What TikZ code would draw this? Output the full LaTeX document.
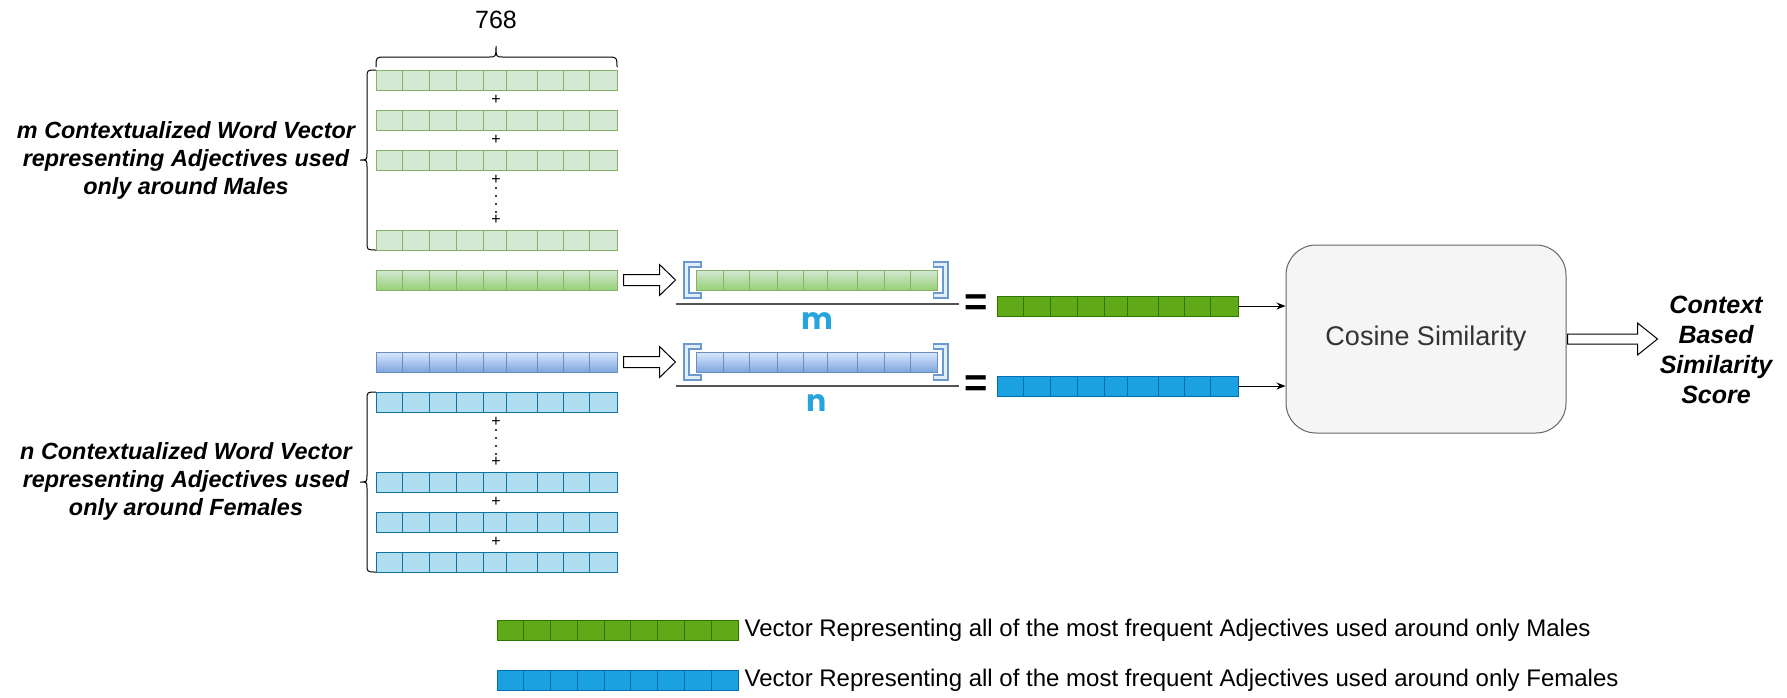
\documentclass[tikz,border=0pt]{standalone}
\usepackage{fontspec}
\setmainfont{Liberation Sans}
\newfontfamily\roundf{Poppins}
\usetikzlibrary{calc,arrows.meta}
\definecolor{lgfill}{HTML}{D5E8D4}
\definecolor{lgline}{HTML}{82B366}
\definecolor{ggrad}{HTML}{97D077}
\definecolor{lbfill}{HTML}{B1DDF0}
\definecolor{lbline}{HTML}{10739E}
\definecolor{bgtop}{HTML}{DAE8FC}
\definecolor{bgbot}{HTML}{7EA6E0}
\definecolor{bgline}{HTML}{6C8EBF}
\definecolor{dgfill}{HTML}{60A917}
\definecolor{dgline}{HTML}{2D7600}
\definecolor{dbfill}{HTML}{1BA1E2}
\definecolor{dbline}{HTML}{006EAF}
\definecolor{boxfill}{HTML}{F5F5F5}
\definecolor{boxline}{HTML}{666666}
\definecolor{boxtext}{HTML}{333333}
\definecolor{brout}{HTML}{6A98CF}
\definecolor{brin}{HTML}{E2EDF8}
\definecolor{mletter}{HTML}{27A4DE}
\definecolor{fracline}{HTML}{555555}
\def\uneven{0.1134,0.2214,0.3353,0.4458,0.543,0.6677,0.7782,0.8862}
\def\even{0.1111,0.2222,0.3333,0.4444,0.5556,0.6667,0.7778,0.8889}
\newcommand{\cells}[3]{\foreach \f in #3 {\draw[#2, line width=1pt] ($(#1.south west)!\f!(#1.south east)$) -- ($(#1.north west)!\f!(#1.north east)$);}}
\newcommand{\hollowarr}[5]{%
  \path #1 coordinate (ha) #2 coordinate (hb);
  \draw[hollow] ($(ha)+(0,#3)$) -- ($(hb)+(-#5,#3)$) -- ($(hb)+(-#5,#4)$) -- (hb) -- ($(hb)+(-#5,-#4)$) -- ($(hb)+(-#5,-#3)$) -- ($(ha)+(0,-#3)$) -- cycle;}
\newcommand{\leftbrc}[2]{%
  \pgfmathsetmacro\bm{(#1+#2)/2}
  \draw[line width=1pt] (376,#1) .. controls (367,#1) .. (367,#1+8) -- (367,\bm-7) .. controls (367,\bm) .. (360,\bm) .. controls (367,\bm) .. (367,\bm+7) -- (367,#2-8) .. controls (367,#2) .. (376,#2);}
\newcommand{\brackets}[1]{%
  \draw[brout, line width=7pt] ($(#1.west)+(5.5,-15.5)$) -- ($(#1.west)+(-9.5,-15.5)$) -- ($(#1.west)+(-9.5,15.5)$) -- ($(#1.west)+(5.5,15.5)$);
  \draw[brin, line width=3pt, shorten <=1.5pt, shorten >=1.5pt] ($(#1.west)+(5.5,-15.5)$) -- ($(#1.west)+(-9.5,-15.5)$) -- ($(#1.west)+(-9.5,15.5)$) -- ($(#1.west)+(5.5,15.5)$);
  \draw[brout, line width=7pt] ($(#1.east)+(-5.5,-15.5)$) -- ($(#1.east)+(7,-15.5)$) -- ($(#1.east)+(7,15.5)$) -- ($(#1.east)+(-5.5,15.5)$);
  \draw[brin, line width=3pt, shorten <=1.5pt, shorten >=1.5pt] ($(#1.east)+(-5.5,-15.5)$) -- ($(#1.east)+(7,-15.5)$) -- ($(#1.east)+(7,15.5)$) -- ($(#1.east)+(-5.5,15.5)$);
  \draw[fracline, line width=1.6pt] ($(#1.west)+(-20.5,24)$) -- ($(#1.east)+(20.5,24)$);}
\begin{document}
\begin{tikzpicture}[x=1pt,y=-1pt,
  vecbox/.style={rectangle, minimum width=241pt, minimum height=20pt, inner sep=0pt, line width=1pt},
  lightgreen/.style={vecbox, draw=lgline, fill=lgfill},
  gradgreen/.style={vecbox, draw=lgline, top color=lgfill, bottom color=ggrad},
  gradblue/.style={vecbox, draw=bgline, top color=bgtop, bottom color=bgbot},
  lightblue/.style={vecbox, draw=lbline, fill=lbfill},
  darkgreen/.style={vecbox, draw=dgline, fill=dgfill},
  darkblue/.style={vecbox, draw=dbline, fill=dbfill},
  lab/.style={font=\fontsize{23.4}{28}\selectfont\bfseries\itshape, align=center, inner sep=0pt},
  plus/.style={font=\fontsize{16}{18}\selectfont, inner sep=0pt},
  eqsign/.style={font=\fontsize{40}{40}\selectfont\bfseries, inner sep=0pt},
  letter/.style={font=\fontsize{30}{30}\selectfont\roundf\bfseries, text=mletter, inner sep=0pt, anchor=base},
  legtext/.style={font=\fontsize{24}{28}\selectfont, anchor=west, inner sep=0pt},
  hollow/.style={draw=black, fill=white, line width=1pt, line join=miter},
  conn/.style={draw=black, line width=1pt, -{Stealth[length=9pt,width=7pt]}},
  cosbox/.style={rectangle, rounded corners=30pt, draw=boxline, fill=boxfill, line width=1pt, minimum width=280pt, minimum height=188pt, text=boxtext, font=\fontsize{27}{32}\selectfont}
]
\fill[white] (0,0) rectangle (1787,697);
\useasboundingbox (0,0) rectangle (1787,697);

% top group
\node[font=\fontsize{25}{30}\selectfont, inner sep=0pt] (n768) at (496,20) {768};
\draw[line width=1pt] (376,67) .. controls (376,57) .. (386,57) -- (489,57) .. controls (496,57) .. (496,46) .. controls (496,57) .. (503,57) -- (607,57) .. controls (617,57) .. (617,67);
\node[lightgreen] (g1) at (496.5,80) {};
\node[lightgreen] (g2) at (496.5,120) {};
\node[lightgreen] (g3) at (496.5,160) {};
\node[lightgreen] (g4) at (496.5,240) {};
\foreach \n in {g1,g2,g3,g4} {\cells{\n}{lgline}{\uneven}}
\node[plus] (p1) at (496,100) {+};
\node[plus] (p2) at (496,140) {+};
\node[plus] (p3) at (496,180) {+};
\node[plus] (p4) at (496,220) {+};
\foreach \yy in {188,196,204,212} {\fill (496,\yy) circle (1.2pt);}
\leftbrc{70}{250}
\node[lab] (mtext) at (186,160) {m Contextualized Word Vector\\representing Adjectives used\\only around Males};

% mean vectors
\node[gradgreen] (gm) at (496.5,280) {};
\cells{gm}{lgline}{\uneven}
\node[gradblue] (bm) at (496.5,362) {};
\cells{bm}{bgline}{\uneven}

% bottom group
\node[lightblue] (b1) at (496.5,402) {};
\node[lightblue] (b2) at (496.5,482) {};
\node[lightblue] (b3) at (496.5,522) {};
\node[lightblue] (b4) at (496.5,562) {};
\foreach \n in {b1,b2,b3,b4} {\cells{\n}{lbline}{\uneven}}
\node[plus] (q1) at (496,422) {+};
\node[plus] (q2) at (496,462) {+};
\node[plus] (q3) at (496,502) {+};
\node[plus] (q4) at (496,542) {+};
\foreach \yy in {430,438,446,454} {\fill (496,\yy) circle (1.2pt);}
\leftbrc{392}{572}
\node[lab] (ntext) at (186,481) {n Contextualized Word Vector\\representing Adjectives used\\only around Females};

% fractions
\node[gradgreen] (gi) at (817,280) {};
\cells{gi}{lgline}{\uneven}
\brackets{gi}
\node[letter] (mlet) at (817,329) {m};
\node[gradblue] (bi) at (817,362) {};
\cells{bi}{bgline}{\uneven}
\brackets{bi}
\node[letter] (nlet) at (817,411) {n};
\coordinate (gtip) at ($(gi.west)+(-20.5,0)$);
\coordinate (btip) at ($(bi.west)+(-20.5,0)$);
\hollowarr{($(gm.east)+(6,0)$)}{(gtip)}{5.5}{15.5}{16}
\hollowarr{($(bm.east)+(6,0)$)}{(btip)}{5.5}{15.5}{16}

% equals and results
\node[eqsign] (eq1) at (976,305) {=};
\node[eqsign] (eq2) at (976,386) {=};
\node[darkgreen] (gf) at (1117.5,306) {};
\cells{gf}{dgline}{\uneven}
\node[darkblue] (bf) at (1117.5,386) {};
\cells{bf}{dbline}{\uneven}

% cosine box
\node[cosbox] (cos) at (1426,339) {Cosine Similarity};
\draw[conn] (gf.east) -- (gf.east -| cos.west);
\draw[conn] (bf.east) -- (bf.east -| cos.west);
\hollowarr{($(cos.east)+(1,0)$)}{($(cos.east)+(91,0)$)}{5}{16}{20}
\node[font=\fontsize{25}{30}\selectfont\bfseries\itshape, align=center, inner sep=0pt] (score) at (1716,350) {Context\\Based\\Similarity\\Score};

% legend
\node[darkgreen] (gl) at (617.5,630) {};
\cells{gl}{dgline}{\even}
\node[darkblue] (bl) at (617.5,680) {};
\cells{bl}{dbline}{\even}
\node[legtext] (lt1) at ($(gl.east)+(6,0)$) {Vector Representing all of the most frequent Adjectives used around only Males};
\node[legtext] (lt2) at ($(bl.east)+(6,0)$) {Vector Representing all of the most frequent Adjectives used around only Females};
\end{tikzpicture}
\end{document}
